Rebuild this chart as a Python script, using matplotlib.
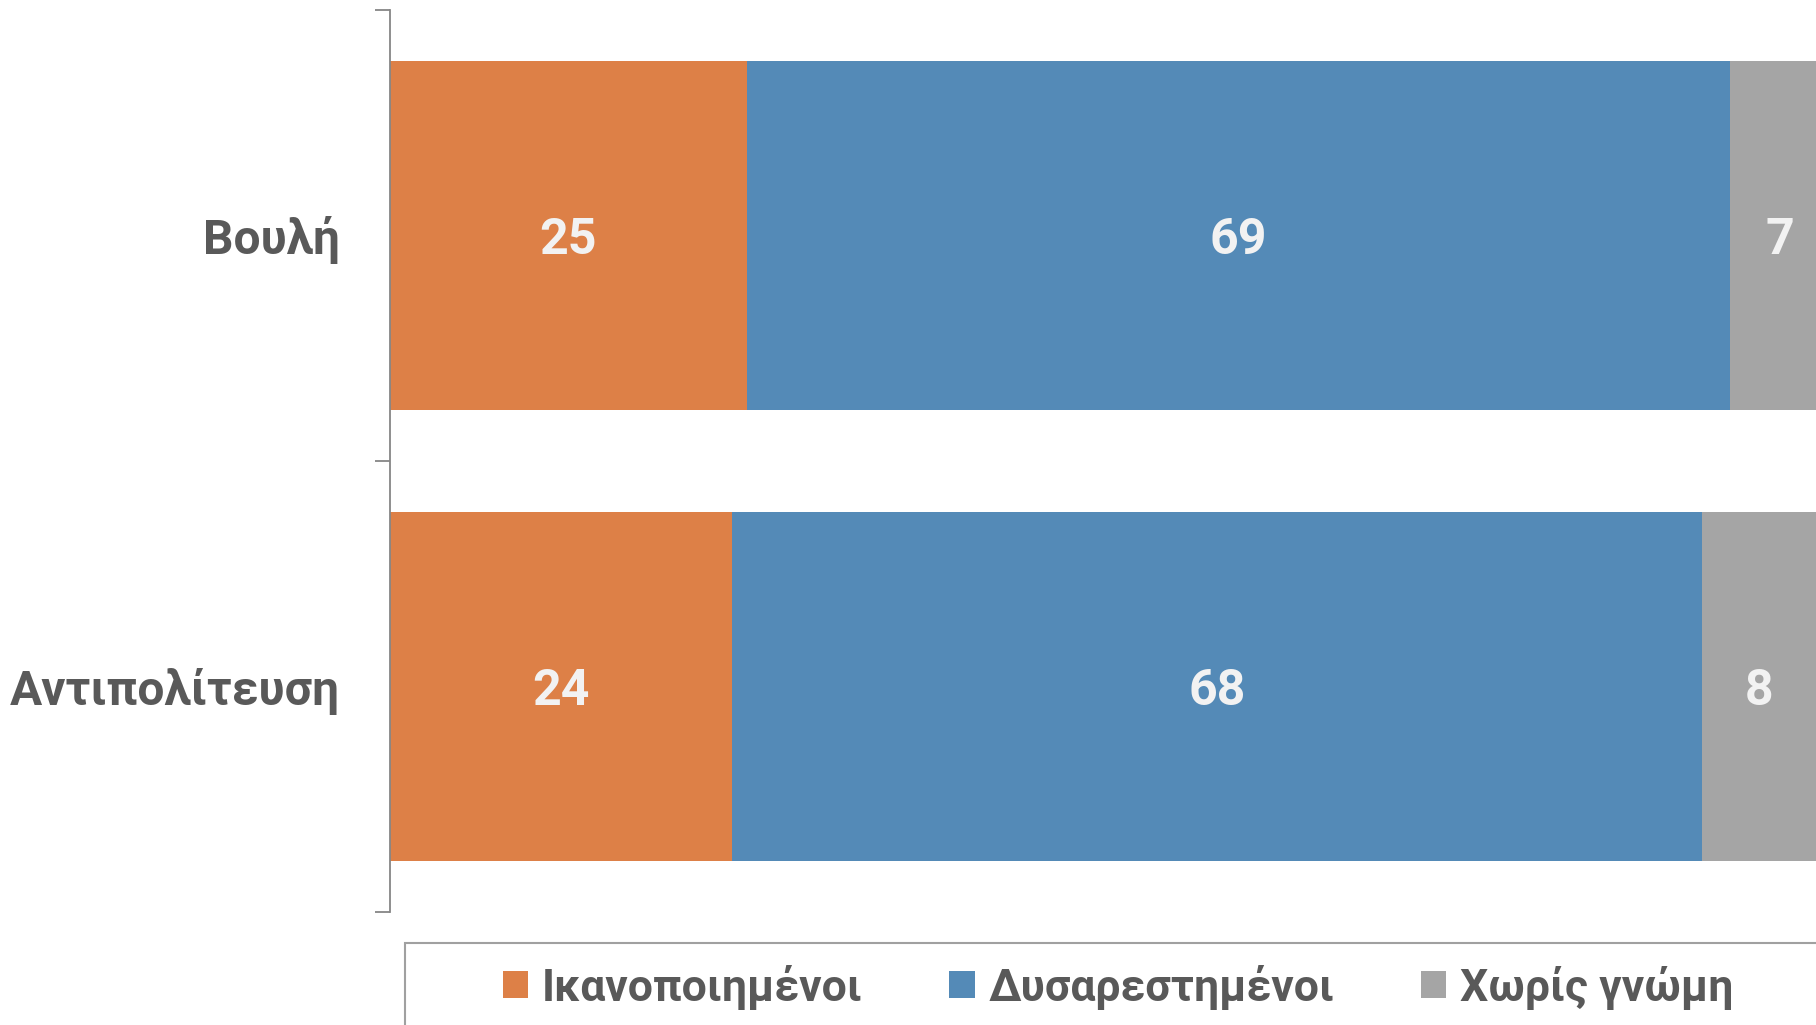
import matplotlib
matplotlib.use("Agg")
import matplotlib.pyplot as plt
from matplotlib.patches import Rectangle, Patch

plt.rcParams['font.family'] = ['Roboto', 'DejaVu Sans']

categories = ["Βουλή", "Αντιπολίτευση"]
series_names = ["Ικανοποιημένοι", "Δυσαρεστημένοι", "Χωρίς γνώμη"]
satisfied = [25, 24]
dissatisfied = [69, 68]
no_opinion = [7, 8]

colors = ["#DD8047", "#548AB7", "#A5A5A5"]
text_gray = "#595959"

W, H = 1816, 1025
fig = plt.figure(figsize=(W / 100, H / 100), dpi=100)
ax = fig.add_axes([390 / W, (H - 912) / H, (W - 390) / W, 902 / H])

ypos = [1, 0]
series = [satisfied, dissatisfied, no_opinion]
left = [0, 0]
for name, vals, c in zip(series_names, series, colors):
    ax.barh(ypos, vals, left=left, height=0.774, color=c, label=name)
    for yy, l, v in zip(ypos, left, vals):
        ax.text(l + v / 2, yy - 0.012, str(v), ha="center", va="center",
                fontsize=36, fontweight="bold", color="#F2F2F2")
    left = [a + b for a, b in zip(left, vals)]

ax.set_xlim(0, 100)
ax.set_ylim(-0.5, 1.5)
ax.set_xticks([])
ax.set_yticks(ypos)
ax.set_yticklabels(categories, fontsize=34.5, fontweight="bold", color=text_gray)
ax.tick_params(axis="y", which="major", length=0, pad=36)
ax.set_yticks([-0.5, 0.5, 1.5], minor=True)
ax.tick_params(axis="y", which="minor", length=11, width=1.3, color="#868686")
for s in ["top", "right", "bottom"]:
    ax.spines[s].set_visible(False)
ax.spines["left"].set_color("#868686")
ax.spines["left"].set_linewidth(1.3)

# legend frame
fig.patches.append(Rectangle((405 / W, -0.05), (W - 405) / W + 0.05, (H - 943) / H + 0.05,
                             transform=fig.transFigure, facecolor="white",
                             edgecolor="#A0A0A0", linewidth=1.5, zorder=0))

handles = [Patch(facecolor=c, edgecolor="none") for c in colors]
leg = fig.legend(handles, series_names, loc="center", bbox_to_anchor=(1118 / W, 1 - 987 / H),
                 ncol=3, frameon=False, fontsize=32, handlelength=0.57, handleheight=0.57,
                 handletextpad=0.31, columnspacing=1.95, borderaxespad=0)
for t in leg.get_texts():
    t.set_color(text_gray)
    t.set_fontweight("bold")

fig.savefig("out.png", dpi=100)
